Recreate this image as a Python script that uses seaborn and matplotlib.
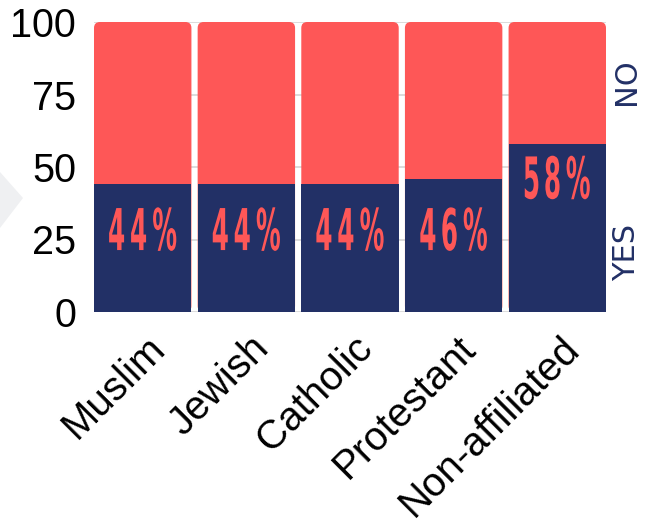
import matplotlib
matplotlib.use("Agg")
import matplotlib.pyplot as plt
from matplotlib.patches import FancyBboxPatch, PathPatch, Polygon
from matplotlib.textpath import TextPath
from matplotlib.font_manager import FontProperties
from matplotlib.transforms import Affine2D
import seaborn as sns
import pandas as pd

# Share of each group answering "yes"; the rest of each bar is "no"
groups = ["Muslim", "Jewish", "Catholic", "Protestant", "Non-affiliated"]
yes_pct = [44, 44, 44, 46, 58]
total_pct = [100, 100, 100, 100, 100]
y_ticks = [0, 25, 50, 75, 100]

RED = "#fe5757"
NAVY = "#223066"
GRID = "#dcdcdc"

sns.set_theme(style="white")
plt.rcParams["font.family"] = ["Liberation Sans", "DejaVu Sans"]

W, H, DPI = 645, 523, 100
fig = plt.figure(figsize=(W / DPI, H / DPI), dpi=DPI)
ax = fig.add_axes([94 / W, 1 - 312 / H, 512 / W, 290 / H])

df = pd.DataFrame({"group": groups, "yes": yes_pct, "total": total_pct})

BAR_W = 0.94
# full-height "no" bars, later swapped for rounded-top versions
sns.barplot(data=df, x="group", y="total", color=RED, width=BAR_W,
            saturation=1, linewidth=0, ax=ax, zorder=2)
red_patches = list(ax.patches)
ax.set_xlim(-0.47, len(groups) - 0.53)
ax.set_ylim(0, 100)

# pixel size of one data unit, for the corner radius
px_x = 512 / (len(groups) - 0.06)
px_y = 290 / 100
radius_px = 6
r = radius_px / px_x
aspect = (radius_px / px_y) / r
for p in red_patches:
    x0, y0 = p.get_x(), p.get_y()
    w, h = p.get_width(), p.get_height()
    p.set_visible(False)
    ax.add_patch(FancyBboxPatch((x0, y0), w, h,
                                boxstyle=f"round,pad=0,rounding_size={r}",
                                mutation_aspect=aspect, facecolor=RED,
                                edgecolor="none", zorder=2))

sns.barplot(data=df, x="group", y="yes", color=NAVY, width=BAR_W,
            saturation=1, linewidth=0, ax=ax, zorder=3)

ax.set_xlim(-0.47, len(groups) - 0.53)
ax.set_ylim(0, 100)
ax.set_yticks(y_ticks)
ax.set_yticklabels([str(t) for t in y_ticks])
ax.yaxis.grid(True, color=GRID, linewidth=1.4, zorder=0)
ax.set_axisbelow(True)
for s in ax.spines.values():
    s.set_visible(False)
ax.set_xlabel("")
ax.set_ylabel("")
ax.tick_params(axis="y", length=0, pad=13, labelsize=28.5, labelcolor="black")
ax.tick_params(axis="x", length=0, pad=8, labelsize=29, labelcolor="black")
ax.set_xticks(range(len(groups)))
ax.set_xticklabels(groups, rotation=45, ha="right", va="top",
                   rotation_mode="anchor")
for lab in ax.get_xticklabels():
    lab.set_transform(lab.get_transform() + Affine2D().translate(3, -6))


# condensed percentage labels drawn glyph by glyph
bold = FontProperties(family="DejaVu Sans", weight="bold")
ref = TextPath((0, 0), "4", size=1, prop=bold).get_extents()
CAP_PX = 42
SY = CAP_PX / ref.height
SX = SY * 0.43
GAP_PX = 7


def condensed_label(text, xc, yc):
    glyphs = []
    total = 0
    for ch in text:
        tp = TextPath((0, 0), ch, size=1, prop=bold)
        ext = tp.get_extents()
        w = ext.width * SX
        glyphs.append((tp, ext, w))
        total += w
    total += GAP_PX * (len(text) - 1)
    cx, cy = ax.transData.transform((xc, yc))
    x = cx - total / 2
    for tp, ext, w in glyphs:
        tr = (Affine2D().translate(-ext.x0, 0).scale(SX, SY)
              .translate(x, cy - CAP_PX / 2))
        fig.patches.append(PathPatch(tr.transform_path(tp), facecolor=RED,
                                     edgecolor="none", transform=None,
                                     figure=fig, zorder=5))
        x += w + GAP_PX


for i, v in enumerate(yes_pct):
    yc = v - 11.6 if v > 50 else 28.6
    condensed_label(f"{v}%", i, yc)

# side captions for the two segments
ax.text(1.04, 0.793, "NO", transform=ax.transAxes, rotation=90,
        ha="center", va="center", color=NAVY, fontsize=22,
        family=["DejaVu Sans"])
ax.text(1.04, 0.207, "YES", transform=ax.transAxes, rotation=90,
        ha="center", va="center", color=NAVY, fontsize=22,
        family=["DejaVu Sans"])

# small grey pointer on the left edge
fig.patches.append(Polygon([(0, 1 - 172 / H), (23 / W, 1 - 198 / H),
                            (0, 1 - 228 / H)], closed=True,
                           facecolor="#eff0f2", edgecolor="none",
                           transform=fig.transFigure, figure=fig, zorder=0))

fig.savefig("out.png", dpi=DPI, facecolor="white")
